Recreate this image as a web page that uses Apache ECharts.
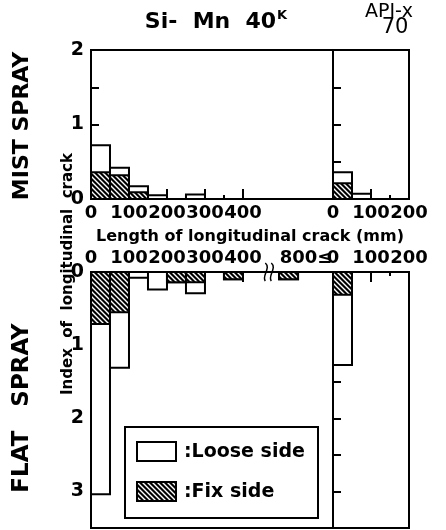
<!DOCTYPE html>
<html><head><meta charset="utf-8">
<script src="https://cdn.jsdelivr.net/npm/echarts@6/dist/echarts.min.js"></script>
<style>html,body{margin:0;padding:0;background:#fff}#c{width:446px;height:530px}</style>
</head><body><div id="c"></div>
<script>
// ---- data ----
// lower edges of the 50 mm crack-length bins (mm); last bin is "800 and over"
const siMnBins = [0, 50, 100, 150, 200, 250, 300, 350, 400, 800];
const apiBins = [0, 50, 100, 150];
const binWidth = 50;
// MIST SPRAY, Si-Mn 40K
const mistSiMnFix   = [0.36, 0.32, 0.09, 0, 0, 0, 0, 0, 0, 0];
const mistSiMnLoose = [0.36, 0.10, 0.08, 0.05, 0, 0.06, 0, 0, 0, 0];
// MIST SPRAY, API-x70
const mistApiFix   = [0.21, 0, 0, 0];
const mistApiLoose = [0.15, 0.07, 0, 0];
// FLAT SPRAY, Si-Mn 40K
const flatSiMnFix   = [0.71, 0.55, 0, 0, 0.14, 0.14, 0, 0.10, 0, 0.10];
const flatSiMnLoose = [2.33, 0.76, 0.08, 0.24, 0, 0.15, 0, 0, 0, 0];
// FLAT SPRAY, API-x70
const flatApiFix   = [0.31, 0, 0, 0];
const flatApiLoose = [0.96, 0, 0, 0];
// tick labels
const siMnTickValues = [0, 100, 200, 300, 400, 800];
const siMnTickLabels = ['0', '100', '200', '300', '400', '800≤'];
const apiTickValues = [0, 100, 200];
const apiTickLabels = ['0', '100', '200'];
const yTopLabels = ['0', '1', '2'];
const yBottomLabels = ['0', '1', '2', '3'];

// ---- axis break (400 ... 800) ----
const breakFrom = 450, breakTo = 800, breakShown = 45;
function mapX(mm) { return mm >= breakTo ? mm - (breakTo - breakFrom) + breakShown : mm; }
const siMnAxisMax = 637;

const FONT = 'DejaVu Sans';
const pc = document.createElement('canvas'); pc.width = 5; pc.height = 5;
(function () {
  const g = pc.getContext('2d');
  g.fillStyle = '#000'; g.fillRect(0, 0, 5, 5);
  g.strokeStyle = '#fff'; g.lineWidth = 1.4;
  g.beginPath();
  g.moveTo(-2, -2); g.lineTo(7, 7);
  g.moveTo(-7, -2); g.lineTo(2, 7);
  g.moveTo(3, -2); g.lineTo(12, 7);
  g.stroke();
})();
const hatch = { image: pc, repeat: 'repeat' };

function barSeries(xi, yi, bins, fix, loose) {
  return {
    type: 'custom', xAxisIndex: xi, yAxisIndex: yi, clip: true,
    data: bins.map((b, i) => [mapX(b), mapX(b) + binWidth, fix[i], loose[i]]),
    encode: { x: [0, 1], y: [2] },
    renderItem(params, api) {
      const x0 = api.value(0), x1 = api.value(1), f = api.value(2), l = api.value(3);
      const kids = [];
      const mk = (v, fill) => {
        const p0 = api.coord([x0, 0]), p1 = api.coord([x1, v]);
        return { type: 'rect', shape: { x: p0[0], y: Math.min(p0[1], p1[1]), width: p1[0] - p0[0], height: Math.abs(p1[1] - p0[1]) },
          style: { fill: fill, stroke: '#000', lineWidth: 2 } };
      };
      if (f + l > 0) kids.push(mk(f + l, '#fff'));
      if (f > 0) kids.push(mk(f, hatch));
      return { type: 'group', children: kids };
    }
  };
}

const lbl = { fontFamily: FONT, fontWeight: 'bold', fontSize: 18, color: '#000' };
function xMain(gi, pos, max, tickVals, labelVals, labelFor) {
  return { type: 'value', gridIndex: gi, position: pos, min: 0, max: max,
    axisLine: { show: true, lineStyle: { color: '#000', width: 2 } },
    axisTick: { show: true, inside: true, length: 10, customValues: tickVals, lineStyle: { color: '#000', width: 2 } },
    axisLabel: Object.assign({ customValues: labelVals, margin: 5, hideOverlap: false, showMinLabel: true, showMaxLabel: true,
      formatter: labelFor,
      rich: { r: { fontFamily: FONT, fontWeight: 'bold', fontSize: 18, color: '#000', padding: [0, 0, 0, 54] } } }, lbl),
    splitLine: { show: false } };
}
function xMinor(gi, pos, max, tickVals) {
  return { type: 'value', gridIndex: gi, position: pos, min: 0, max: max,
    axisLine: { show: false }, axisLabel: { show: false }, splitLine: { show: false },
    axisTick: { show: true, inside: true, length: 4, customValues: tickVals, lineStyle: { color: '#000', width: 2 } } };
}
function yAx(gi, max, inverse, labels) {
  return { type: 'value', gridIndex: gi, min: 0, max: max, interval: 0.5, inverse: inverse,
    axisLine: { show: true, lineStyle: { color: '#000', width: 2 } },
    axisTick: { show: true, inside: true, length: 8, lineStyle: { color: '#000', width: 2 } },
    axisLabel: Object.assign({}, lbl, { show: !!labels, margin: 7, fontSize: 19, hideOverlap: false,
      formatter: v => (labels && Number.isInteger(v) && labels[v] !== undefined) ? labels[v] : '' }),
    splitLine: { show: false } };
}
const siMnLabelFor = v => {
  const i = siMnTickValues.map(mapX).indexOf(v);
  if (i < 0) return '';
  return siMnTickValues[i] >= breakTo ? '{r|' + siMnTickLabels[i] + '}' : siMnTickLabels[i];
};
const apiLabelFor = v => { const i = apiTickValues.indexOf(v); return i >= 0 ? apiTickLabels[i] : ''; };

const gridStyle = { show: true, borderColor: '#000', borderWidth: 2, backgroundColor: 'transparent' };
const option = {
  animation: false,
  backgroundColor: '#fff',
  grid: [
    Object.assign({ left: 91, top: 50, width: 242, height: 149 }, gridStyle),
    Object.assign({ left: 333, top: 50, width: 76, height: 149 }, gridStyle),
    Object.assign({ left: 91, top: 272, width: 242, height: 256 }, gridStyle),
    Object.assign({ left: 333, top: 272, width: 76, height: 256 }, gridStyle)
  ],
  xAxis: [
    xMain(0, 'bottom', siMnAxisMax, [100, 200, 300, 400], siMnTickValues.slice(0, 5), siMnLabelFor),
    xMinor(0, 'bottom', siMnAxisMax, [50, 150, 250, 350]),
    xMain(1, 'bottom', 200, [100], apiTickValues, apiLabelFor),
    xMinor(1, 'bottom', 200, [50, 150]),
    xMain(2, 'top', siMnAxisMax, [100, 200, 300, 400], siMnTickValues.map(mapX), siMnLabelFor),
    xMinor(2, 'top', siMnAxisMax, [50, 150, 250, 350]),
    xMain(3, 'top', 200, [100], apiTickValues, apiLabelFor),
    xMinor(3, 'top', 200, [50, 150])
  ],
  yAxis: [
    yAx(0, 2, false, yTopLabels),
    yAx(1, 2, false, null),
    yAx(2, 3.5, true, yBottomLabels),
    yAx(3, 3.5, true, null)
  ],
  series: [
    barSeries(0, 0, siMnBins, mistSiMnFix, mistSiMnLoose),
    barSeries(2, 1, apiBins, mistApiFix, mistApiLoose),
    barSeries(4, 2, siMnBins, flatSiMnFix, flatSiMnLoose),
    barSeries(6, 3, apiBins, flatApiFix, flatApiLoose)
  ]
};
const chart = echarts.init(document.getElementById('c'), null, { renderer: 'canvas' });
chart.setOption(option);

// ---- texts, legend, break mark ----
const T = (text, x, y, size, extra, align, weight) => Object.assign({ type: 'text', x: x, y: y,
  style: { text: text, fontFamily: FONT, fontWeight: weight || 'bold', fontSize: size, fill: '#000', align: align || 'center', verticalAlign: 'middle' } }, extra || {});
const bx = chart.convertToPixel({ xAxisIndex: 4 }, mapX(breakFrom) + 22);
const by = chart.convertToPixel({ yAxisIndex: 2 }, 0);
const graphics = [
  { type: 'text', x: 216, y: 22, style: { text: '{a|Si-  Mn  40}{s|K}', align: 'center', verticalAlign: 'middle',
      rich: { a: { fontFamily: FONT, fontWeight: 'bold', fontSize: 22, fill: '#000' },
              s: { fontFamily: FONT, fontWeight: 'bold', fontSize: 13, fill: '#000', verticalAlign: 'top', padding: [0, 0, 12, 1] } } } },
  T('API-x', 389, 12, 19, null, 'center', 'normal'),
  T('70', 395, 28, 21, null, 'center', 'normal'),
  T('Length of longitudinal crack (mm)', 250, 237, 16),
  T('MIST SPRAY', 22, 126, 22, { rotation: Math.PI / 2 }),
  T('FLAT   SPRAY', 22, 408, 23, { rotation: Math.PI / 2 }),
  T('Index  of  longitudinal  crack', 68, 274, 15, { rotation: Math.PI / 2 }),
  { type: 'rect', shape: { x: 125, y: 427, width: 193, height: 91 }, style: { fill: '#fff', stroke: '#000', lineWidth: 2 } },
  { type: 'rect', shape: { x: 137, y: 442, width: 39, height: 19 }, style: { fill: '#fff', stroke: '#000', lineWidth: 2 } },
  { type: 'rect', shape: { x: 137, y: 482, width: 39, height: 19 }, style: { fill: hatch, stroke: '#000', lineWidth: 2 } },
  T(':Loose side', 184, 452, 19, null, 'left'),
  T(':Fix side', 184, 492, 19, null, 'left'),
  { type: 'rect', shape: { x: bx - 4, y: by - 3, width: 8, height: 6 }, style: { fill: '#fff' } },
  { type: 'bezierCurve', shape: { x1: bx - 5, y1: by - 9, x2: bx - 5, y2: by + 9, cpx1: bx + 1, cpy1: by - 4, cpx2: bx - 9, cpy2: by + 4 }, style: { stroke: '#000', lineWidth: 1.5, fill: null } },
  { type: 'bezierCurve', shape: { x1: bx + 1, y1: by - 9, x2: bx + 1, y2: by + 9, cpx1: bx + 7, cpy1: by - 4, cpx2: bx - 3, cpy2: by + 4 }, style: { stroke: '#000', lineWidth: 1.5, fill: null } }
];
chart.setOption({ graphic: graphics });
</script></body></html>
